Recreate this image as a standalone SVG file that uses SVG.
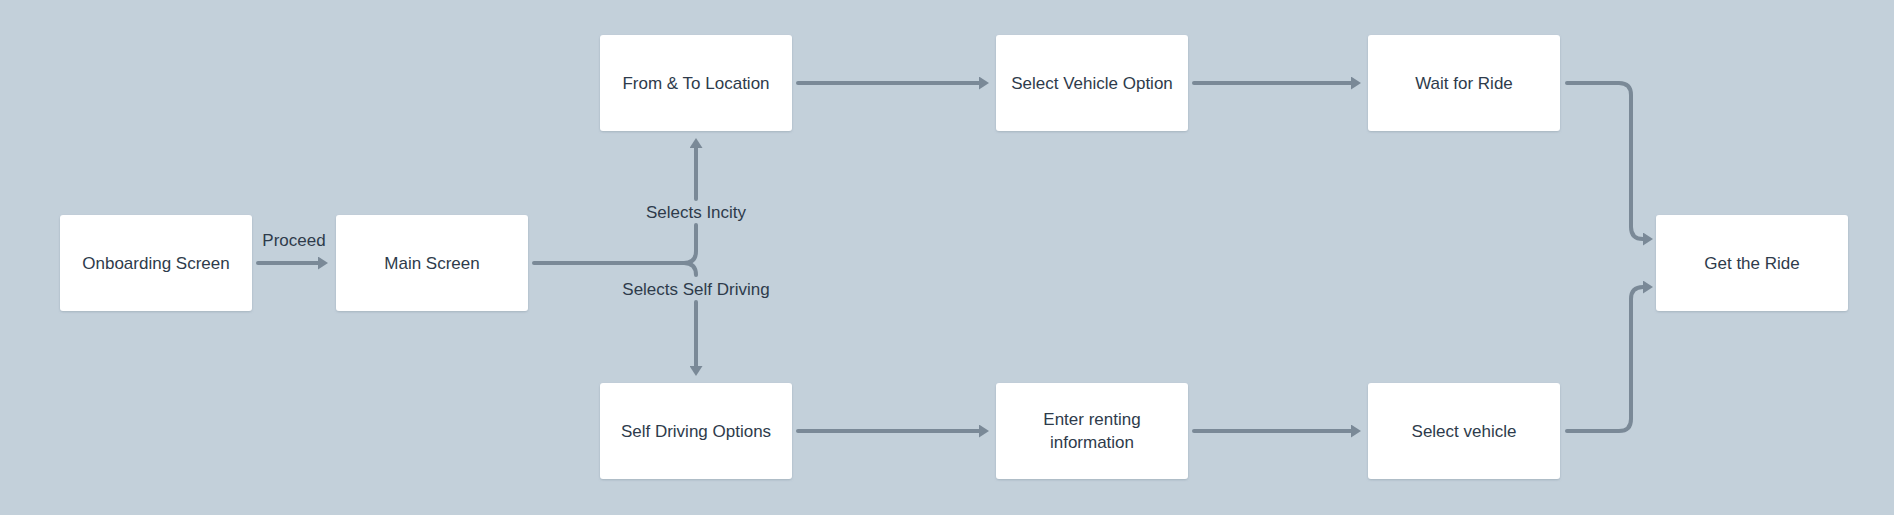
<svg xmlns="http://www.w3.org/2000/svg" width="1894" height="515" viewBox="0 0 1894 515">
<style>
.bg{fill:#c3d0da}
.node rect{fill:#ffffff;filter:url(#sh)}
.node text,.lbl{font-family:"Liberation Sans",Arial,sans-serif;font-size:17px;fill:#2e3b4b;text-anchor:middle}
.edge{fill:none;stroke:#7a8997;stroke-width:4;stroke-linecap:round;stroke-linejoin:round}
.arr{marker-end:url(#ah)}
</style>
<defs>
<marker id="ah" viewBox="0 0 10 13" refX="2" refY="6.5" markerWidth="10" markerHeight="13" markerUnits="userSpaceOnUse" orient="auto">
<path d="M0,0 L10,6.5 L0,13 Z" fill="#7a8997"/>
</marker>
<filter id="sh" x="-5%" y="-5%" width="110%" height="115%">
<feDropShadow dx="0" dy="1" stdDeviation="0.8" flood-color="#6b7d8c" flood-opacity="0.35"/>
</filter>
</defs>
<rect class="bg" x="0" y="0" width="1894" height="515"/>
<g id="connectors">
<path class="edge arr" d="M258,263 H320"/>
<path class="edge arr" d="M534,263 H684 Q696,263 696,251 V225 M696,199 V146"/>
<path class="edge" d="M684,263 Q696,263 696,275"/>
<path class="edge arr" d="M696,302 V368"/>
<path class="edge arr" d="M798,83 H981"/>
<path class="edge arr" d="M1194,83 H1353"/>
<path class="edge arr" d="M798,431 H981"/>
<path class="edge arr" d="M1194,431 H1353"/>
<path class="edge arr" d="M1567,83 H1619 Q1631,83 1631,95 V227 Q1631,239 1643,239 H1645"/>
<path class="edge arr" d="M1567,431 H1619 Q1631,431 1631,419 V299 Q1631,287 1643,287 H1645"/>
<text class="lbl" x="294" y="246">Proceed</text>
<text class="lbl" x="696" y="218">Selects Incity</text>
<text class="lbl" x="696" y="295">Selects Self Driving</text>
</g>
<g id="onboarding" class="node"><rect x="60" y="215" width="192" height="96" rx="3"/><text x="156" y="269">Onboarding Screen</text></g>
<g id="main" class="node"><rect x="336" y="215" width="192" height="96" rx="3"/><text x="432" y="269">Main Screen</text></g>
<g id="fromto" class="node"><rect x="600" y="35" width="192" height="96" rx="3"/><text x="696" y="89">From &amp; To Location</text></g>
<g id="selectvehicleoption" class="node"><rect x="996" y="35" width="192" height="96" rx="3"/><text x="1092" y="89">Select Vehicle Option</text></g>
<g id="waitforride" class="node"><rect x="1368" y="35" width="192" height="96" rx="3"/><text x="1464" y="89">Wait for Ride</text></g>
<g id="gettheride" class="node"><rect x="1656" y="215" width="192" height="96" rx="3"/><text x="1752" y="269">Get the Ride</text></g>
<g id="selfdriving" class="node"><rect x="600" y="383" width="192" height="96" rx="3"/><text x="696" y="437">Self Driving Options</text></g>
<g id="enterrenting" class="node"><rect x="996" y="383" width="192" height="96" rx="3"/><text x="1092" y="425">Enter renting</text><text x="1092" y="448">information</text></g>
<g id="selectvehicle" class="node"><rect x="1368" y="383" width="192" height="96" rx="3"/><text x="1464" y="437">Select vehicle</text></g>
</svg>
